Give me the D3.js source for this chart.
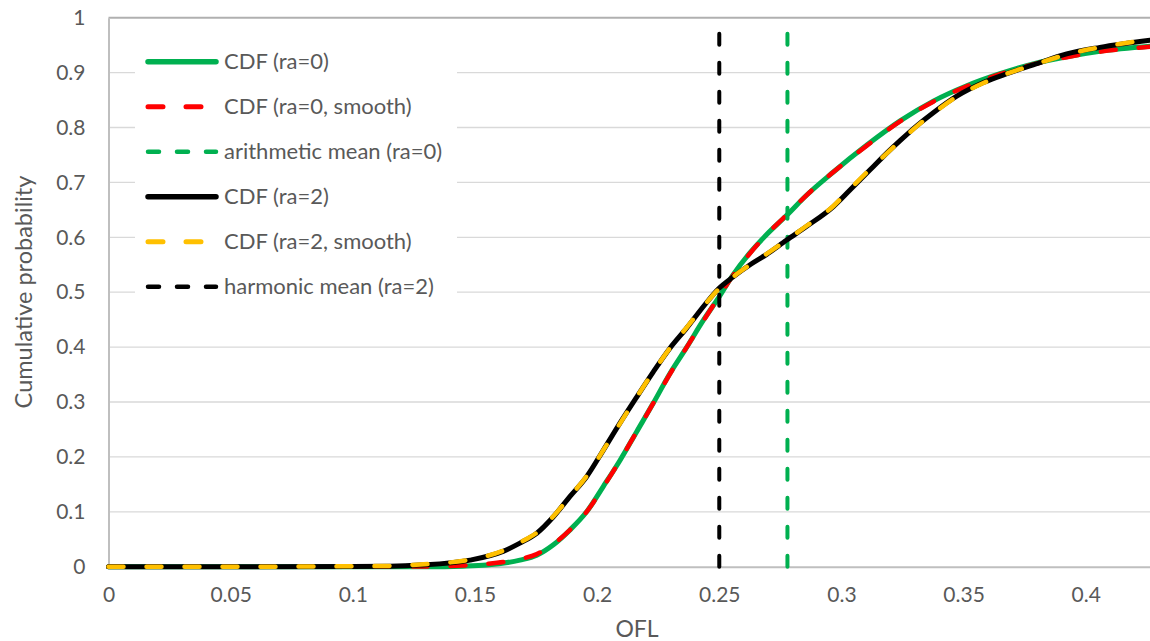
<!DOCTYPE html>
<html>
<head>
<meta charset="utf-8">
<script src="https://cdn.jsdelivr.net/npm/d3@7"></script>
<style>
  body { margin: 0; background: #fff; }
  text { font-family: Lato, "Open Sans", sans-serif; fill: #595959; }
</style>
</head>
<body>
<svg id="chart"></svg>
<script>
// data
const xTicks = [0, 0.05, 0.1, 0.15, 0.2, 0.25, 0.3, 0.35, 0.4];
const yTicks = [0, 0.1, 0.2, 0.3, 0.4, 0.5, 0.6, 0.7, 0.8, 0.9, 1];

const cdf0X = [0, 0.05, 0.1, 0.13, 0.145, 0.1548, 0.1684, 0.1753, 0.1821, 0.1889, 0.1957, 0.2025, 0.2094, 0.2162, 0.223, 0.2298, 0.2367, 0.2435, 0.2496, 0.2557, 0.2626, 0.2694, 0.2776, 0.2858, 0.2967, 0.3104, 0.324, 0.3376, 0.3513, 0.3649, 0.3785, 0.3922, 0.4058, 0.4263];
const cdf0Y = [0, 0, 0, 0, 0.001, 0.003, 0.012, 0.021, 0.04, 0.067, 0.1, 0.146, 0.194, 0.246, 0.298, 0.352, 0.4, 0.449, 0.489, 0.532, 0.572, 0.605, 0.64, 0.677, 0.719, 0.768, 0.812, 0.848, 0.876, 0.898, 0.916, 0.929, 0.939, 0.948];

const cdf0sX = [0, 0.05, 0.1, 0.13, 0.145, 0.1548, 0.1684, 0.1753, 0.1821, 0.1889, 0.1957, 0.2025, 0.2094, 0.2162, 0.223, 0.2298, 0.2367, 0.2435, 0.2496, 0.2557, 0.2626, 0.2694, 0.2776, 0.2858, 0.2967, 0.3104, 0.324, 0.3376, 0.3513, 0.3649, 0.3785, 0.3922, 0.4058, 0.4263];
const cdf0sY = [0, 0, 0, 0.0005, 0.002, 0.005, 0.014, 0.023, 0.041, 0.067, 0.1, 0.145, 0.194, 0.246, 0.298, 0.351, 0.4, 0.448, 0.49, 0.531, 0.571, 0.605, 0.641, 0.677, 0.719, 0.767, 0.811, 0.847, 0.875, 0.897, 0.915, 0.928, 0.938, 0.947];

const cdf2X = [0, 0.05, 0.1, 0.115, 0.1275, 0.148, 0.1615, 0.1684, 0.1753, 0.1821, 0.1889, 0.1957, 0.2025, 0.2094, 0.2162, 0.223, 0.2298, 0.2367, 0.2435, 0.2496, 0.2557, 0.2626, 0.2694, 0.2776, 0.2858, 0.2967, 0.3035, 0.3131, 0.3171, 0.324, 0.3308, 0.3376, 0.3472, 0.3581, 0.3677, 0.3785, 0.3922, 0.4058, 0.4263];
const cdf2Y = [0, 0, 0.0005, 0.001, 0.003, 0.012, 0.028, 0.043, 0.061, 0.091, 0.128, 0.164, 0.212, 0.262, 0.309, 0.355, 0.398, 0.435, 0.474, 0.506, 0.528, 0.55, 0.569, 0.595, 0.62, 0.656, 0.686, 0.729, 0.747, 0.776, 0.803, 0.827, 0.857, 0.882, 0.898, 0.914, 0.934, 0.946, 0.959];

const cdf2sX = [0, 0.05, 0.1, 0.115, 0.1275, 0.148, 0.1615, 0.1684, 0.1753, 0.1821, 0.1889, 0.1957, 0.2025, 0.2094, 0.2162, 0.223, 0.2298, 0.2367, 0.2435, 0.2496, 0.2557, 0.2626, 0.2694, 0.2776, 0.2858, 0.2967, 0.3035, 0.3131, 0.324, 0.3308, 0.3376, 0.3472, 0.3581, 0.3677, 0.3785, 0.3922, 0.4058, 0.4263];
const cdf2sY = [0, 0, 0.0008, 0.0015, 0.004, 0.013, 0.029, 0.044, 0.062, 0.092, 0.128, 0.165, 0.212, 0.261, 0.309, 0.355, 0.398, 0.436, 0.474, 0.505, 0.528, 0.55, 0.57, 0.595, 0.621, 0.657, 0.688, 0.73, 0.775, 0.802, 0.826, 0.856, 0.881, 0.898, 0.914, 0.933, 0.946, 0.96];

const arithMean0 = 0.2779;
const harmMean2 = 0.25;

const legendLabels = ["CDF (ra=0)", "CDF (ra=0, smooth)", "arithmetic mean (ra=0)", "CDF (ra=2)", "CDF (ra=2, smooth)", "harmonic mean (ra=2)"];

const W = 1150, H = 641;
const svg = d3.select("#chart").attr("width", W).attr("height", H);

const x = d3.scaleLinear().domain([0, 0.4263]).range([108.5, 1150]);
const y = d3.scaleLinear().domain([0, 1]).range([566.7, 17.7]);

// gridlines
svg.append("g").selectAll("line").data(yTicks.slice(1, -1)).join("line")
  .attr("x1", x(0)).attr("x2", W)
  .attr("y1", d => y(d)).attr("y2", d => y(d))
  .attr("stroke", "#d9d9d9").attr("stroke-width", 1.3);

// top line at 1
svg.append("line").attr("x1", x(0)).attr("x2", W).attr("y1", y(1)).attr("y2", y(1))
  .attr("stroke", "#b0b0b0").attr("stroke-width", 2);

// axes
const xAxis = svg.append("g").attr("transform", `translate(0,${y(0)})`)
  .call(d3.axisBottom(x).tickValues(xTicks).tickSize(0).tickPadding(20).tickFormat(d3.format("~g")));
xAxis.select(".domain").attr("stroke", "#bfbfbf").attr("stroke-width", 2);
xAxis.selectAll("text").attr("font-size", 21).style("font-family", "Lato").attr("fill", "#595959");

const yAxis = svg.append("g").attr("transform", `translate(${x(0)},0)`)
  .call(d3.axisLeft(y).tickValues(yTicks).tickSize(0).tickPadding(23).tickFormat(d3.format("~g")));
yAxis.select(".domain").attr("stroke", "#bfbfbf").attr("stroke-width", 2);
yAxis.selectAll("text").attr("font-size", 21).style("font-family", "Lato").attr("fill", "#595959");

// axis titles
svg.append("text").attr("x", 637).attr("y", 637).attr("text-anchor", "middle")
  .attr("font-size", 23).text("OFL");
svg.append("text").attr("transform", "translate(32,292) rotate(-90)").attr("text-anchor", "middle")
  .attr("font-size", 23.5).text("Cumulative probability");

const line = d3.line().x(d => x(d[0])).y(d => y(d[1])).curve(d3.curveMonotoneX);
const pairs = (xs, ys) => xs.map((v, i) => [v, ys[i]]);

const series = [
  {pts: pairs(cdf0X, cdf0Y), color: "#00b050", w: 5, dash: null},
  {pts: pairs(cdf0sX, cdf0sY), color: "#ff0000", w: 4.5, dash: "15,23"},
  {pts: [[arithMean0, 0], [arithMean0, 1]], color: "#00b050", w: 4, dash: "11,18"},
  {pts: pairs(cdf2X, cdf2Y), color: "#000000", w: 5, dash: null},
  {pts: pairs(cdf2sX, cdf2sY), color: "#ffc000", w: 4.5, dash: "15,23"},
  {pts: [[harmMean2, 0], [harmMean2, 1]], color: "#000000", w: 4, dash: "11,18"}
];

svg.append("g").selectAll("path").data(series).join("path")
  .attr("d", d => line(d.pts))
  .attr("fill", "none")
  .attr("stroke", d => d.color)
  .attr("stroke-width", d => d.w)
  .attr("stroke-linecap", "round")
  .attr("stroke-dasharray", d => d.dash);

// legend
const lg = svg.append("g");
lg.append("rect").attr("x", 135).attr("y", 40).attr("width", 322).attr("height", 270).attr("fill", "#fff");
const item = lg.selectAll("g.item").data(series).join("g").attr("class", "item")
  .attr("transform", (d, i) => `translate(0,${61.7 + i * 45})`);
item.append("line").attr("x1", 148).attr("x2", 216).attr("y1", 0).attr("y2", 0)
  .attr("stroke", d => d.color).attr("stroke-width", d => d.w + 0.5)
  .attr("stroke-linecap", "round")
  .attr("stroke-dasharray", d => d.dash);
item.append("text").attr("x", 224).attr("y", 0).attr("dy", "0.35em")
  .attr("font-size", 22).text((d, i) => legendLabels[i]);
</script>
</body>
</html>
